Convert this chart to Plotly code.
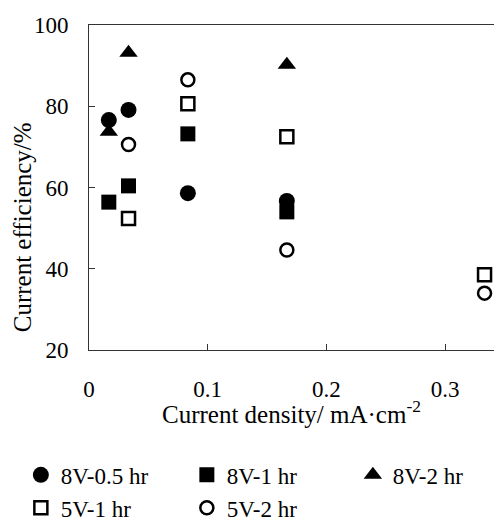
import plotly.graph_objects as go

# Current density values (mA/cm^2)
x_8v05 = [0.0167, 0.0333, 0.0833, 0.1667]
y_8v05 = [76.6, 79.1, 58.6, 56.7]

x_8v1 = [0.0167, 0.0333, 0.0833, 0.1667]
y_8v1 = [56.4, 60.4, 73.2, 54.0]

x_8v2 = [0.0167, 0.0333, 0.1667]
y_8v2 = [73.7, 93.2, 90.2]

x_5v1 = [0.0333, 0.0833, 0.1667, 0.3333]
y_5v1 = [52.4, 80.6, 72.5, 38.5]

x_5v2 = [0.0333, 0.0833, 0.1667, 0.3333]
y_5v2 = [70.6, 86.5, 44.6, 34.0]

x_ticks = [0, 0.1, 0.2, 0.3]
x_ticklabels = ["0", "0.1", "0.2", "0.3"]
y_ticks = [20, 40, 60, 80, 100]

FONT = "Liberation Serif"

fig = go.Figure()
series = [
    ("8V-0.5 hr", x_8v05, y_8v05, "circle", 16),
    ("8V-1 hr", x_8v1, y_8v1, "square", 15),
    ("8V-2 hr", x_8v2, y_8v2, "triangle-up", 16),
    ("5V-1 hr", x_5v1, y_5v1, "square-open", 13),
    ("5V-2 hr", x_5v2, y_5v2, "circle-open", 13),
]
for name, xs, ys, sym, size in series:
    fig.add_trace(go.Scatter(
        x=xs, y=ys, mode="markers", name=name,
        marker=dict(symbol=sym, size=size, color="black",
                    line=dict(color="black", width=2.5 if "open" in sym else 0)),
    ))

fig.update_layout(
    width=494, height=518,
    margin=dict(l=81, r=0, t=17, b=176, autoexpand=False),
    paper_bgcolor="white", plot_bgcolor="white",
    font=dict(family=FONT, color="black", size=23),
    showlegend=True,
    legend=dict(
        orientation="h", x=-0.165, y=-0.318, xanchor="left", yanchor="top",
        font=dict(family=FONT, size=23, color="black"),
        entrywidth=121, entrywidthmode="pixels",
        tracegroupgap=0, itemwidth=30,
    ),
    xaxis=dict(
        range=[0, 0.348], tickvals=x_ticks, ticktext=x_ticklabels,
        ticks="inside", ticklen=6, tickcolor="#333", showgrid=False, zeroline=False,
        showline=True, linecolor="#333", linewidth=1, mirror=True,
        tickfont=dict(family=FONT, size=23), ticklabelstandoff=18,
    ),
    yaxis=dict(
        range=[20, 100], tickvals=y_ticks,
        ticks="inside", ticklen=6, tickcolor="#333", showgrid=False, zeroline=False,
        showline=True, linecolor="#333", linewidth=1, mirror=False,
        tickfont=dict(family=FONT, size=23), ticklabelstandoff=15,
    ),
    annotations=[
        dict(
            text="Current efficiency/%", textangle=-90,
            xref="paper", yref="paper", x=-0.162, y=0.378,
            xanchor="center", yanchor="middle", showarrow=False,
            font=dict(family=FONT, size=25, color="black"),
        ),
        dict(
            text="Current density/ mA·cm<sup>-2</sup>",
            xref="paper", yref="paper", x=0.49, y=-0.191,
            xanchor="center", yanchor="middle", showarrow=False,
            font=dict(family=FONT, size=25, color="black"),
        ),
    ],
)

fig.write_html("out.html")
